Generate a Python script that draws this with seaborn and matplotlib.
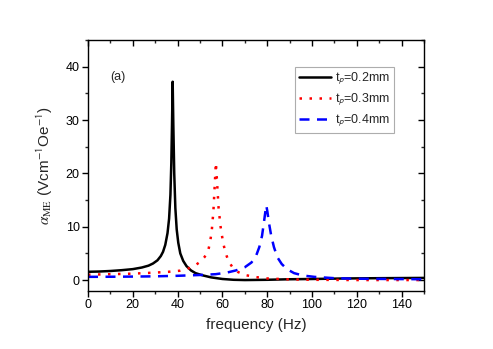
import matplotlib
matplotlib.use("Agg")
import matplotlib.pyplot as plt
import seaborn as sns
import pandas as pd
from matplotlib.ticker import MultipleLocator

# ---- data ----
f_02 = [0, 5, 10, 15, 20, 24, 27, 29, 31, 32.5, 33.5, 34.5, 35.5, 36.2, 36.8, 37.2, 37.5,
        37.8, 38.1, 38.5, 39, 39.6, 40.3, 41.2, 42.5, 44, 46, 48, 51, 55, 60, 65, 70,
        80, 90, 100, 115, 130, 150]
a_02 = [1.55, 1.6, 1.7, 1.85, 2.05, 2.35, 2.7, 3.1, 3.7, 4.5, 5.3, 6.6, 8.8, 11.5, 16, 22, 29,
        37.2, 29, 20, 13.5, 9.5, 7.0, 5.0, 3.6, 2.6, 1.8, 1.3, 0.9, 0.5, 0.2, 0.05, 0.0,
        0.05, 0.15, 0.2, 0.3, 0.35, 0.4]

f_03 = [0, 10, 20, 30, 36, 41, 45, 48, 50, 52, 53.5, 54.5, 55.3, 56, 56.6, 57.1, 57.6,
        58.3, 59.2, 60.2, 61.3, 62.8, 64.5, 67, 70, 75, 80, 90, 100, 120, 150]
a_03 = [1.0, 1.1, 1.2, 1.4, 1.55, 1.75, 2.2, 2.8, 3.4, 4.3, 5.3, 7.0, 9.5, 13, 18, 22, 18.5,
        13.5, 10, 7.3, 5.2, 3.5, 2.4, 1.5, 0.95, 0.55, 0.3, 0.12, 0.05, 0.0, 0.0]

f_04 = [0, 10, 20, 30, 40, 50, 57, 62, 66, 70, 73, 75, 76.5, 77.7, 78.6, 79.3, 79.6,
        80.1, 80.8, 81.8, 83, 84.5, 86.5, 89, 92, 96, 101, 110, 120, 135, 150]
a_04 = [0.6, 0.62, 0.65, 0.7, 0.8, 0.95, 1.1, 1.4, 1.8, 2.4, 3.3, 4.5, 6.2, 8.3, 11, 13.2, 14,
        12.8, 10.7, 8.3, 6.2, 4.3, 3.0, 2.0, 1.3, 0.85, 0.6, 0.35, 0.25, 0.2, 0.15]

labels = [r"t$_{\mathsf{p}}$=0.2mm", r"t$_{\mathsf{p}}$=0.3mm", r"t$_{\mathsf{p}}$=0.4mm"]
x_ticks = [0, 20, 40, 60, 80, 100, 120, 140]
y_ticks = [0, 10, 20, 30, 40]

sns.set_style("ticks")
plt.rcParams["font.family"] = ["Liberation Sans", "DejaVu Sans"]
plt.rcParams["mathtext.fontset"] = "stix"

fig = plt.figure(figsize=(4.93, 3.49), dpi=100)
ax = fig.add_axes([0.1785, 0.167, 0.6815, 0.718])

series = [(f_02, a_02, "black", "-", 1.8),
          (f_03, a_03, "#ff0000", (0, (1, 3)), 1.8),
          (f_04, a_04, "#0000ff", (0, (4, 3)), 1.8)]
for (fx, ay, col, ls, lw), lab in zip(series, labels):
    df = pd.DataFrame({"frequency": fx, "alpha": ay})
    sns.lineplot(data=df, x="frequency", y="alpha", ax=ax, color=col, linestyle=ls,
                 linewidth=lw, label=lab, estimator=None, sort=False)

ax.set_xlim(0, 150)
ax.set_ylim(-2, 45)
ax.set_xticks(x_ticks)
ax.set_yticks(y_ticks)
ax.xaxis.set_minor_locator(MultipleLocator(10))
ax.yaxis.set_minor_locator(MultipleLocator(5))
for s in ax.spines.values():
    s.set_linewidth(1.0)
    s.set_color("black")
ax.tick_params(axis="both", which="major", direction="out", length=4, width=1,
               labelsize=9, colors="black", pad=2)
ax.tick_params(axis="both", which="minor", direction="out", length=2.5, width=1)
# mirrored inward ticks on the right/top
ax.tick_params(which="both", right=True, top=True)
for t in ax.yaxis.get_majorticklines()[1::2] + ax.yaxis.get_minorticklines()[1::2]:
    t.set_marker(0)
for t in ax.xaxis.get_majorticklines()[1::2] + ax.xaxis.get_minorticklines()[1::2]:
    t.set_marker(3)

ax.set_xlabel("frequency (Hz)", fontsize=11, labelpad=5)
ax.set_ylabel(r"$\alpha_{\mathrm{ME}}$ (Vcm$^{\mathsf{-1}}$Oe$^{\mathsf{-1}}$)", fontsize=11, labelpad=8)

ax.text(0.089, 0.852, "(a)", transform=ax.transAxes, fontsize=9, ha="center", va="center")

leg = ax.legend(loc="upper left", bbox_to_anchor=(0.616, 0.892), borderaxespad=0,
                fontsize=9, frameon=True, fancybox=False, handlelength=2.6,
                handletextpad=0.3, labelspacing=0.35, borderpad=0.3)
leg.get_frame().set_edgecolor("#999999")
leg.get_frame().set_linewidth(0.8)

fig.savefig("out.png", dpi=100)
